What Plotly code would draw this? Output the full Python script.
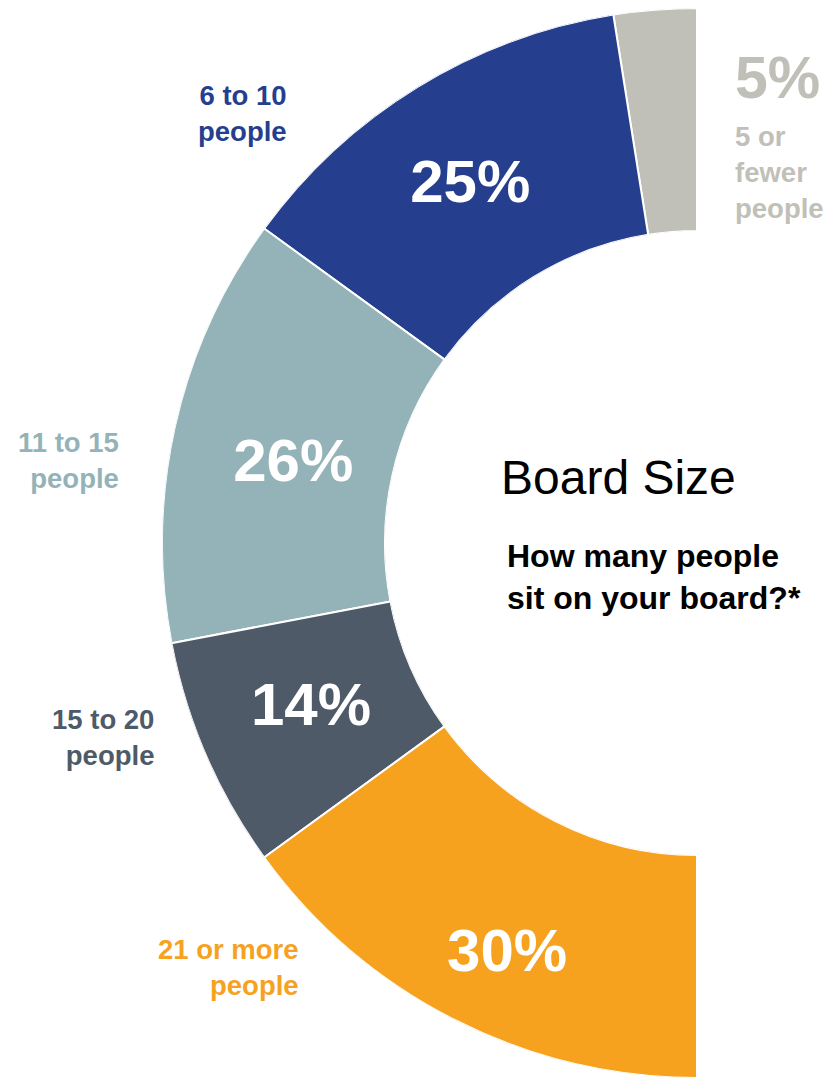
import plotly.graph_objects as go

# Survey results: board size distribution (percent of respondents)
categories = ["5 or fewer people", "6 to 10 people", "11 to 15 people",
              "15 to 20 people", "21 or more people"]
values = [5, 25, 26, 14, 30]
colors = ["#C1C0B8", "#253F8E", "#94B3B8", "#4E5A67", "#F6A21F"]

W, H = 840, 1078
FONT = "Liberation Sans, Arial, sans-serif"

# Half donut: 100% spans 180 degrees, starting at 12 o'clock going counterclockwise
DEG_PER_PCT = 180.0 / sum(values)
widths = [v * DEG_PER_PCT for v in values]
starts = []
acc = 0.0
for w in widths:
    starts.append(acc)
    acc += w
mids = [s + w / 2 for s, w in zip(starts, widths)]

fig = go.Figure()

fig.add_trace(go.Barpolar(
    r=[1] * len(values),
    theta=mids,
    width=widths,
    base=0,
    marker=dict(color=colors, line=dict(color="white", width=2)),
    hoverinfo="skip",
    showlegend=False,
))

# Percent labels inside the ring (the smallest slice is labelled outside)
label_r = [0.5, 0.493, 0.444, 0.487, 0.639]
label_dtheta = [0, 1.0, 1.8, 0.0, 2.3]
inside = [False, True, True, True, True]
fig.add_trace(go.Scatterpolar(
    r=[r for r, ok in zip(label_r, inside) if ok],
    theta=[m + d for m, d, ok in zip(mids, label_dtheta, inside) if ok],
    text=[f"{v}%" for v, ok in zip(values, inside) if ok],
    mode="text",
    textfont=dict(family=FONT, size=60, color="white", weight="bold"),
    hoverinfo="skip",
    showlegend=False,
))


def px(x):
    return x / W


def py(y):
    return 1 - y / H


annotations = []
# Category labels placed around the ring
cat_pos = [
    None,
    (289, 114, "right"),
    (121, 460, "right"),
    (156, 737, "right"),
    (301, 967, "right"),
]
for cat, col, pos in zip(categories, colors, cat_pos):
    if pos is None:
        continue
    x, y, al = pos
    words = cat.rsplit(" ", 1)
    annotations.append(dict(
        x=px(x), y=py(y), xref="paper", yref="paper",
        xanchor=al, yanchor="middle", align=al, showarrow=False,
        text="<br>".join(words),
        font=dict(family=FONT, size=27.5, color=col, weight="bold"),
    ))

# Smallest slice: value and category outside the ring on the right
annotations.append(dict(
    x=px(733), y=py(78), xref="paper", yref="paper",
    xanchor="left", yanchor="middle", showarrow=False,
    text=f"{values[0]}%",
    font=dict(family=FONT, size=59, color=colors[0], weight="bold"),
))
annotations.append(dict(
    x=px(733), y=py(173), xref="paper", yref="paper",
    xanchor="left", yanchor="middle", align="left", showarrow=False,
    text="5 or<br>fewer<br>people",
    font=dict(family=FONT, size=27.5, color=colors[0], weight="bold"),
))

# Title and question in the hole
annotations.append(dict(
    x=px(618), y=py(477), xref="paper", yref="paper",
    xanchor="center", yanchor="middle", showarrow=False,
    text="Board Size",
    font=dict(family=FONT, size=48, color="black"),
))
annotations.append(dict(
    x=px(505), y=py(577), xref="paper", yref="paper",
    xanchor="left", yanchor="middle", align="left", showarrow=False,
    text="How many people<br>sit on your board?*",
    font=dict(family=FONT, size=32, color="black", weight="bold"),
))

fig.update_layout(
    width=W, height=H,
    margin=dict(l=0, r=0, t=0, b=0),
    paper_bgcolor="white",
    plot_bgcolor="white",
    polar=dict(
        domain=dict(x=[px(162), px(697)], y=[0, py(8)]),
        sector=[90, 270],
        hole=312 / 535,
        bgcolor="rgba(0,0,0,0)",
        radialaxis=dict(visible=False, range=[0, 1]),
        angularaxis=dict(visible=False, rotation=90, direction="counterclockwise"),
        bargap=0,
    ),
    annotations=annotations,
)

fig.write_html("out.html")
